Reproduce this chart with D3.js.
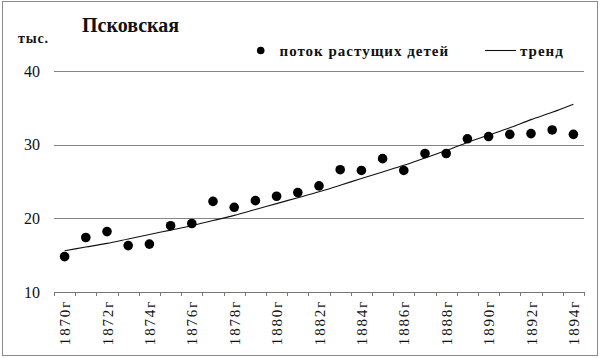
<!DOCTYPE html>
<html><head><meta charset="utf-8">
<script src="https://cdn.jsdelivr.net/npm/d3@7"></script>
<style>
body{margin:0;background:#fff}
svg{display:block}
svg text{font-family:"Liberation Serif","Times New Roman",serif !important}
</style>
</head><body>
<svg id="c" width="600" height="358" font-family="Liberation Serif"></svg>
<script>
const years = ["1870г","1871г","1872г","1873г","1874г","1875г","1876г","1877г","1878г","1879г","1880г","1881г","1882г","1883г","1884г","1885г","1886г","1887г","1888г","1889г","1890г","1891г","1892г","1893г","1894г"];
const flowValues = [14.8,17.4,18.2,16.3,16.5,19.0,19.3,22.3,21.5,22.4,23.0,23.5,24.4,26.6,26.5,28.1,26.5,28.8,28.8,30.8,31.1,31.4,31.5,32.0,31.4];
const trendValues = [15.6,16.1,16.6,17.2,17.8,18.4,19.0,19.7,20.4,21.2,22.0,22.8,23.6,24.5,25.4,26.3,27.2,28.2,29.2,30.3,31.3,32.3,33.4,34.4,35.5];
const yTicks = [10,20,30,40];
const labelYears = years.filter((d,i)=>i%2===0);
const titleText = "Псковская";
const unitText = "тыс.";
const legendFlow = "поток растущих детей";
const legendTrend = "тренд";

const svg = d3.select("#c");
const fam = '"Liberation Serif"';
const pLeft = 54, pRight = 584, pTop = 71, pBottom = 292;

svg.append("rect").attr("x",2.5).attr("y",1.5).attr("width",595).attr("height",354)
  .attr("fill","#fff").attr("stroke","#8a8a8a").attr("stroke-width",1);

const x = d3.scaleBand().domain(years).range([pLeft,pRight]).padding(0);
const y = d3.scaleLinear().domain([10,40]).range([pBottom,pTop]);

svg.append("g").selectAll("line").data(yTicks.filter(d=>d>10)).join("line")
  .attr("x1",pLeft).attr("x2",pRight)
  .attr("y1",d=>Math.round(y(d))+0.5).attr("y2",d=>Math.round(y(d))+0.5)
  .attr("stroke","#868686").attr("stroke-width",1);

svg.append("g").selectAll("text").data(yTicks).join("text")
  .attr("x",40).attr("y",d=>y(d)+5.5).attr("text-anchor","end")
  .style("font-family",fam).attr("font-size",16).attr("fill","#111")
  .text(d=>d);

const xAxis = d3.axisBottom(x).tickSize(0).tickFormat("");
const gx = svg.append("g").attr("transform",`translate(0,${pBottom+0.5})`).call(xAxis);
gx.select(".domain").attr("stroke","#777").attr("d",`M${pLeft},0H${pRight}`);
const bounds = years.map(d=>x(d)).concat([pRight]);
svg.append("g").selectAll("line").data(bounds).join("line")
  .attr("x1",d=>Math.round(d)+0.5).attr("x2",d=>Math.round(d)+0.5)
  .attr("y1",pBottom).attr("y2",pBottom+4)
  .attr("stroke","#777").attr("stroke-width",1);

svg.append("g").selectAll("text").data(labelYears).join("text")
  .attr("transform",d=>`translate(${x(d)+x.bandwidth()/2+0.5},300) rotate(-90)`)
  .attr("text-anchor","end").attr("dominant-baseline","central")
  .style("font-family",fam).attr("font-size",15).attr("letter-spacing","1.8px").attr("fill","#111")
  .text(d=>d);

const trendLine = d3.line().x((d,i)=>x(years[i])+x.bandwidth()/2).y(d=>y(d)).curve(d3.curveMonotoneX);
svg.append("path").datum(trendValues).attr("d",trendLine)
  .attr("fill","none").attr("stroke","#111").attr("stroke-width",1.1);

svg.append("g").selectAll("circle").data(flowValues).join("circle")
  .attr("cx",(d,i)=>x(years[i])+x.bandwidth()/2).attr("cy",d=>y(d)).attr("r",4.8)
  .attr("fill","#000");

svg.append("text").attr("x",82).attr("y",32).style("font-family",fam)
  .attr("font-weight","bold").attr("font-size",20).attr("fill","#111").text(titleText);
svg.append("text").attr("x",18).attr("y",43).style("font-family",fam)
  .attr("font-weight","bold").attr("font-size",14).attr("letter-spacing","0.8px").attr("fill","#111").text(unitText);

svg.append("circle").attr("cx",260.7).attr("cy",50.5).attr("r",3.8).attr("fill","#000");
svg.append("text").attr("x",279.5).attr("y",55.5).style("font-family",fam)
  .attr("font-weight","bold").attr("font-size",15).attr("letter-spacing","1px").attr("fill","#111").text(legendFlow);
svg.append("line").attr("x1",485).attr("x2",516).attr("y1",50.5).attr("y2",50.5)
  .attr("stroke","#111").attr("stroke-width",1.1);
svg.append("text").attr("x",520).attr("y",55.5).style("font-family",fam)
  .attr("font-weight","bold").attr("font-size",15).attr("letter-spacing","1px").attr("fill","#111").text(legendTrend);
</script>
</body></html>
